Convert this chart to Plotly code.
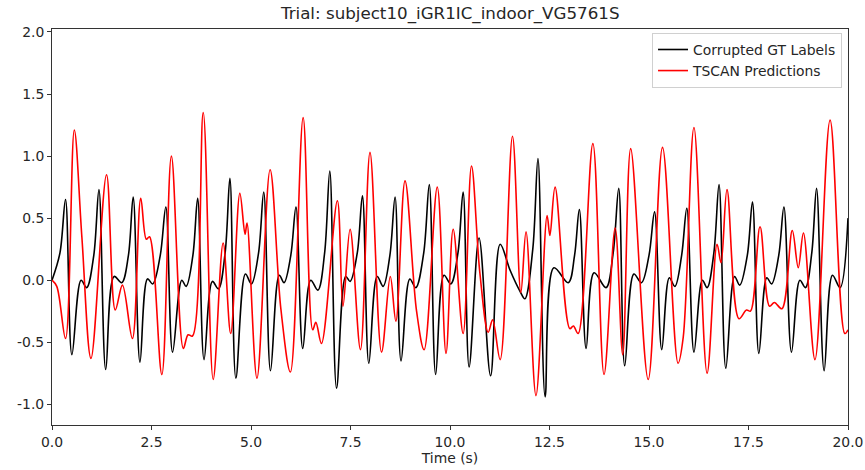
import plotly.graph_objects as go

# Corrupted GT Labels (black) keypoints: time (s), value
gt_t = [0.00, 0.20, 0.34, 0.50, 0.73, 0.87, 1.05, 1.18, 1.35, 1.56, 1.75, 1.92, 2.04, 2.21, 2.40, 2.53,
        2.72, 2.86, 3.03, 3.26, 3.37, 3.54, 3.66, 3.82, 4.03, 4.18, 4.35, 4.47, 4.62, 4.86, 5.01,
        5.19, 5.32, 5.49, 5.71, 5.83, 6.00, 6.13, 6.30, 6.50, 6.68, 6.85, 6.98, 7.15, 7.38, 7.49,
        7.67, 7.80, 7.96, 8.17, 8.32, 8.49, 8.62, 8.77, 8.99, 9.14, 9.34, 9.48, 9.64, 9.85, 10.02,
        10.20, 10.33, 10.48, 10.73, 11.02, 11.26, 11.51, 11.76, 11.88, 12.08, 12.21, 12.39, 12.61,
        12.97, 13.13, 13.25, 13.42, 13.62, 13.92, 14.10, 14.24, 14.39, 14.62, 14.81, 15.00, 15.14,
        15.32, 15.51, 15.65, 15.82, 15.95, 16.13, 16.34, 16.46, 16.63, 16.76, 16.93, 17.15, 17.28,
        17.47, 17.60, 17.76, 17.96, 18.08, 18.26, 18.39, 18.58, 18.79, 18.93, 19.09, 19.21, 19.40,
        19.61, 19.80, 20.00]
gt_v = [0.00, 0.22, 0.65, -0.60, 0.00, -0.06, 0.20, 0.73, -0.72, 0.03, -0.02, 0.20, 0.67, -0.66, 0.01, -0.03,
        0.20, 0.59, -0.58, 0.00, -0.05, 0.20, 0.66, -0.64, -0.01, -0.07, 0.22, 0.82, -0.79, 0.05, -0.03,
        0.22, 0.71, -0.73, 0.04, -0.02, 0.20, 0.59, -0.55, 0.00, -0.08, 0.22, 0.88, -0.87, 0.03, -0.01,
        0.22, 0.68, -0.67, 0.03, -0.05, 0.20, 0.67, -0.65, 0.01, -0.06, 0.22, 0.77, -0.76, 0.04, -0.03,
        0.22, 0.71, -0.70, 0.34, -0.77, 0.29, 0.08, -0.09, -0.15, 0.25, 0.98, -0.94, 0.10,
        -0.02, 0.20, 0.57, -0.55, 0.06, -0.06, 0.22, 0.74, -0.69, 0.05, -0.02, 0.20, 0.55,
        -0.56, 0.02, -0.05, 0.20, 0.58, -0.58, 0.00, -0.06, 0.22, 0.77, -0.71, 0.03, -0.04,
        0.20, 0.63, -0.59, 0.02, -0.03, 0.20, 0.59, -0.58, 0.00, -0.06, 0.22, 0.74, -0.73,
        0.04, -0.06, 0.50]

# TSCAN Predictions (red) keypoints
pred_t = [0.00, 0.12, 0.34, 0.56, 0.75, 0.98, 1.37, 1.59, 1.77, 2.02, 2.23, 2.37, 2.45, 2.76, 3.00,
          3.30, 3.42, 3.53, 3.80, 4.05, 4.30, 4.49, 4.72, 4.85, 4.90, 5.15, 5.48, 5.75, 5.99, 6.31,
          6.55, 6.63, 6.77, 7.17, 7.31, 7.49, 7.75, 7.99, 8.28, 8.50, 8.64, 8.87, 9.16, 9.35, 9.68,
          9.90, 10.08, 10.33, 10.54, 10.75, 10.96, 11.07, 11.26, 11.57, 11.78, 11.91, 12.16, 12.44,
          12.51, 12.64, 13.01, 13.10, 13.22, 13.59, 13.87, 14.15, 14.34, 14.54, 14.98, 15.34, 15.73,
          15.86, 16.13, 16.46, 16.71, 16.81, 16.96, 17.26, 17.45, 17.55, 17.79, 18.03, 18.15, 18.34,
          18.60, 18.75, 18.88, 19.17, 19.55, 19.92, 20.00]
pred_v = [0.00, -0.05, -0.47, 1.21, 0.35, -0.63, 0.85, -0.24, -0.04, -0.47, 0.66, 0.33, 0.35, -0.76, 1.00,
          -0.55, -0.44, -0.45, 1.35, -0.80, 0.30, -0.43, 0.70, 0.37, 0.46, -0.79, 0.89, -0.23, -0.74, 1.31,
          -0.40, -0.34, -0.51, 0.64, -0.21, 0.41, -0.56, 1.03, -0.58, 0.03, -0.33, 0.80, -0.25, -0.56, 0.75,
          -0.59, 0.41, -0.43, 0.92, 0.06, -0.42, -0.32, -0.64, 1.16, -0.10, 0.39, -0.93, 0.52,
          0.36, 0.75, -0.39, -0.37, -0.43, 1.10, -0.76, 0.42, -0.60, 1.06, -0.80, 1.07, -0.67,
          -0.46, 1.23, -0.75, 0.29, 0.14, 0.73, -0.31, -0.24, -0.25, 0.43, -0.21, -0.18, -0.23,
          0.40, 0.10, 0.38, -0.64, 1.29, -0.43, -0.40]

x_ticks = [0.0, 2.5, 5.0, 7.5, 10.0, 12.5, 15.0, 17.5, 20.0]
y_ticks = [-1.0, -0.5, 0.0, 0.5, 1.0, 1.5, 2.0]

fig = go.Figure()
fig.add_trace(go.Scatter(x=gt_t, y=gt_v, mode="lines", name="Corrupted GT Labels",
                         line=dict(color="black", width=1.6, shape="spline", smoothing=1.0)))
fig.add_trace(go.Scatter(x=pred_t, y=pred_v, mode="lines", name="TSCAN Predictions",
                         line=dict(color="red", width=1.6, shape="spline", smoothing=1.0)))

axis_common = dict(showline=True, linecolor="#333333", linewidth=1, mirror=True,
                   ticks="outside", ticklen=4, tickcolor="#333333", showgrid=False,
                   zeroline=False, automargin=False, tickfont=dict(size=13.9, color="#262626"))

fig.update_layout(
    width=865, height=470,
    margin=dict(l=52, r=17, t=29, b=45),
    paper_bgcolor="white", plot_bgcolor="white",
    font=dict(family="DejaVu Sans", color="#262626"),
    title=dict(text="Trial: subject10_iGR1IC_indoor_VG5761S", x=0.5205, xref="container",
               xanchor="center", y=1 - 13 / 470, yref="container", yanchor="middle",
               font=dict(size=16.7, color="#262626")),
    xaxis=dict(range=[0, 20], tickvals=x_ticks, ticktext=[f"{v:.1f}" for v in x_ticks],
               title=dict(text="Time (s)", font=dict(size=13.9), standoff=2), **axis_common),
    yaxis=dict(range=[-1.167, 2.024], tickvals=y_ticks, ticktext=[f"{v:.1f}" for v in y_ticks],
               **axis_common),
    legend=dict(x=0.9925, y=0.99, xanchor="right", yanchor="top", bgcolor="rgba(255,255,255,0.9)",
                bordercolor="#d0d0d0", borderwidth=1, font=dict(size=13.9, color="#262626"),
                tracegroupgap=0, itemwidth=30),
    showlegend=True,
)

fig.write_html("out.html")
